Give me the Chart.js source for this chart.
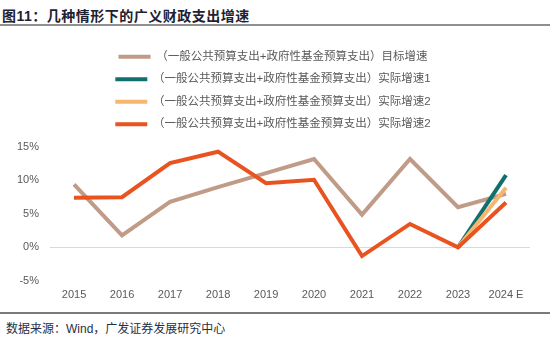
<!DOCTYPE html>
<html>
<head>
<meta charset="utf-8">
<script src="https://cdn.jsdelivr.net/npm/chart.js@4/dist/chart.umd.min.js"></script>
<style>
  html, body { margin: 0; padding: 0; background: #fff; }
  body { width: 550px; height: 347px; position: relative; overflow: hidden;
         font-family: "Liberation Sans", "Noto Sans CJK SC", sans-serif; }
  #title { position: absolute; left: 2px; top: 5px; font-size: 14px; font-weight: bold; color: #1e2230; letter-spacing: 0.5px; }
  #rule-top { position: absolute; left: 0; top: 24px; width: 550px; height: 2px; background: #8f8f8f; }
  #rule-bottom { position: absolute; left: 0; top: 312px; width: 550px; height: 2px; background: #7a7a7a; }
  #source { position: absolute; left: 6px; top: 319px; font-size: 12px; color: #2a2f45; }
  #wrap { position: absolute; left: 0; top: 28px; width: 550px; height: 282px; }
</style>
</head>
<body>
<div id="title">图11：几种情形下的广义财政支出增速</div>
<div id="rule-top"></div>
<div id="wrap"><canvas id="c"></canvas></div>
<div id="rule-bottom"></div>
<div id="source">数据来源：Wind，广发证券发展研究中心</div>
<script>
const categories = ['2015', '2016', '2017', '2018', '2019', '2020', '2021', '2022', '2023', '2024 E'];
const targetGrowth = [9.4, 1.8, 6.8, 9.0, 11.1, 13.2, 4.9, 13.2, 6.0, 8.0];
const actualGrowth1 = [null, null, null, null, null, null, null, null, 0.0, 10.8];
const actualGrowth2a = [null, null, null, null, null, null, null, null, 0.0, 8.9];
const actualGrowth2b = [7.4, 7.5, 12.6, 14.3, 9.6, 10.1, -1.3, 3.5, 0.0, 6.7];
const yTicks = [-5, 0, 5, 10, 15];

const prefix = '（一般公共预算支出+政府性基金预算支出）';
const FONT = '"Liberation Sans", "Noto Sans CJK SC", sans-serif';

function series(label, data, color, order) {
  return {
    label: label, data: data, borderColor: color, backgroundColor: color,
    borderWidth: 4, pointRadius: 0, pointHoverRadius: 0, tension: 0,
    order: order, spanGaps: false
  };
}

// leave extra room under the legend block and nudge it slightly right
const legendTweak = {
  id: 'legendTweak',
  beforeInit(chart) {
    const legend = chart.legend;
    const fit = legend.fit;
    legend.fit = function () {
      fit.call(this);
      this.height += 7;
    };
  },
  afterLayout(chart) {
    chart.legend.left += 5;
    chart.legend.right += 5;
  }
};

new Chart(document.getElementById('c'), {
  type: 'line',
  plugins: [legendTweak],
  data: {
    labels: categories,
    datasets: [
      series(prefix + '目标增速', targetGrowth, '#c09b87', 4),
      series(prefix + '实际增速1', actualGrowth1, '#10706e', 3),
      series(prefix + '实际增速2', actualGrowth2a, '#f5b770', 2),
      series(prefix + '实际增速2', actualGrowth2b, '#e8531f', 1)
    ]
  },
  options: {
    responsive: true,
    maintainAspectRatio: false,
    animation: false,
    layout: { padding: { top: 12, left: 6, right: 20, bottom: 0 } },
    plugins: {
      tooltip: { enabled: false },
      legend: {
        position: 'top',
        align: 'center',
        labels: {
          usePointStyle: true,
          pointStyle: 'line',
          pointStyleWidth: 32,
          boxHeight: 12,
          padding: 11,
          color: '#595959',
          font: { family: FONT, size: 11.5 },
          sort: (a, b) => a.datasetIndex - b.datasetIndex
        }
      }
    },
    scales: {
      x: {
        offset: true,
        grid: { display: false, drawTicks: false, tickLength: 0 },
        border: { display: false },
        ticks: { color: '#595959', font: { family: FONT, size: 11 }, padding: 8, maxRotation: 0 }
      },
      y: {
        min: -5, max: 15,
        afterBuildTicks: (axis) => { axis.ticks = yTicks.map(v => ({ value: v })); },
        grid: {
          color: (ctx) => (ctx.tick && ctx.tick.value === 0) ? '#d9d9d9' : 'rgba(0,0,0,0)',
          lineWidth: 1,
          drawTicks: false
        },
        border: { display: false },
        ticks: {
          color: '#595959', font: { family: FONT, size: 11 }, padding: 11,
          callback: (v) => v + '%'
        }
      }
    }
  }
});
</script>
</body>
</html>
